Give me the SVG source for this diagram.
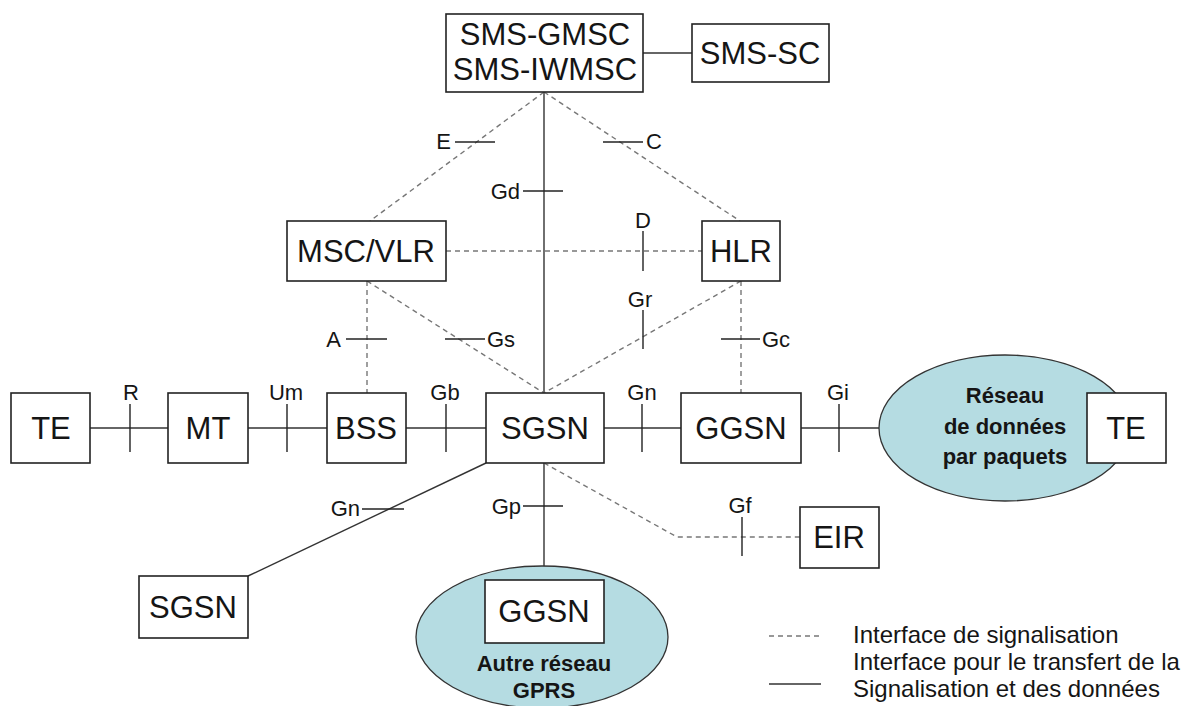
<svg xmlns="http://www.w3.org/2000/svg" width="1194" height="706" viewBox="0 0 1194 706">
<style>
.box{fill:#fff;stroke:#222;stroke-width:1.6}
.net{fill:#b5dce2;stroke:#333;stroke-width:1.3}
.t{font-family:"Liberation Sans",Arial,sans-serif;font-size:31px;fill:#151515;text-anchor:middle}
.b{font-family:"Liberation Sans",Arial,sans-serif;font-size:22px;font-weight:bold;fill:#151515;text-anchor:middle}
.l{font-family:"Liberation Sans",Arial,sans-serif;font-size:22px;fill:#151515}
.lg{font-family:"Liberation Sans",Arial,sans-serif;font-size:24px;fill:#151515}
.s{stroke:#333;stroke-width:1.4;fill:none}
.d{stroke:#777;stroke-width:1.4;stroke-dasharray:5 4;fill:none}
.k{stroke:#222;stroke-width:1.4}
</style>
<rect width="1194" height="706" fill="#fff"/>
<g id="connectors">
<line class="s" x1="643" y1="53" x2="692" y2="53"/>
<line class="s" x1="544" y1="92" x2="544" y2="393"/>
<line class="d" x1="544" y1="92" x2="370" y2="221"/>
<line class="d" x1="544" y1="92" x2="740" y2="221"/>
<line class="d" x1="446" y1="251" x2="702" y2="251"/>
<line class="d" x1="367" y1="281" x2="367" y2="393"/>
<line class="d" x1="367" y1="281" x2="544" y2="393"/>
<line class="d" x1="741" y1="281" x2="544" y2="393"/>
<line class="d" x1="741" y1="281" x2="741" y2="393"/>
<line class="s" x1="90" y1="428" x2="168" y2="428"/>
<line class="s" x1="248" y1="428" x2="327" y2="428"/>
<line class="s" x1="406" y1="428" x2="486" y2="428"/>
<line class="s" x1="604" y1="428" x2="681" y2="428"/>
<line class="s" x1="801" y1="428" x2="879" y2="428"/>
<line class="s" x1="486" y1="463" x2="248" y2="576"/>
<line class="s" x1="544" y1="463" x2="544" y2="580"/>
<polyline class="d" points="544,463 677,537 800,537"/>
<g id="ticks">
<line class="k" x1="455" y1="142" x2="495" y2="142"/>
<line class="k" x1="603" y1="142" x2="643" y2="142"/>
<line class="k" x1="523" y1="191" x2="563" y2="191"/>
<line class="k" x1="643" y1="231" x2="643" y2="271"/>
<line class="k" x1="643" y1="310" x2="643" y2="349"/>
<line class="k" x1="346" y1="339" x2="387" y2="339"/>
<line class="k" x1="445" y1="339" x2="485" y2="339"/>
<line class="k" x1="721" y1="339" x2="760" y2="339"/>
<line class="k" x1="130" y1="404" x2="130" y2="452"/>
<line class="k" x1="287" y1="404" x2="287" y2="452"/>
<line class="k" x1="446" y1="404" x2="446" y2="452"/>
<line class="k" x1="642" y1="404" x2="642" y2="452"/>
<line class="k" x1="839" y1="404" x2="839" y2="452"/>
<line class="k" x1="362" y1="509" x2="404" y2="509"/>
<line class="k" x1="523" y1="506" x2="563" y2="506"/>
<line class="k" x1="742" y1="517" x2="742" y2="556"/>
</g>
<g id="labels">
<text class="l" x="451" y="149" text-anchor="end">E</text>
<text class="l" x="646" y="149">C</text>
<text class="l" x="520" y="199" text-anchor="end">Gd</text>
<text class="l" x="643" y="228" text-anchor="middle">D</text>
<text class="l" x="640" y="307" text-anchor="middle">Gr</text>
<text class="l" x="341" y="347" text-anchor="end">A</text>
<text class="l" x="487" y="347">Gs</text>
<text class="l" x="762" y="347">Gc</text>
<text class="l" x="131" y="400" text-anchor="middle">R</text>
<text class="l" x="286" y="400" text-anchor="middle">Um</text>
<text class="l" x="445" y="400" text-anchor="middle">Gb</text>
<text class="l" x="642" y="400" text-anchor="middle">Gn</text>
<text class="l" x="838" y="400" text-anchor="middle">Gi</text>
<text class="l" x="360" y="516" text-anchor="end">Gn</text>
<text class="l" x="521" y="514" text-anchor="end">Gp</text>
<text class="l" x="740" y="513" text-anchor="middle">Gf</text>
</g>
</g>
<g id="sms-gmsc"><rect class="box" x="446" y="14" width="197" height="78"/><text class="t" x="545" y="45">SMS-GMSC</text><text class="t" x="545" y="80">SMS-IWMSC</text></g>
<g id="sms-sc"><rect class="box" x="692" y="24" width="137" height="58"/><text class="t" x="760" y="64">SMS-SC</text></g>
<g id="msc-vlr"><rect class="box" x="287" y="221" width="159" height="60"/><text class="t" x="366" y="262">MSC/VLR</text></g>
<g id="hlr"><rect class="box" x="702" y="221" width="78" height="60"/><text class="t" x="741" y="262">HLR</text></g>
<g id="te1"><rect class="box" x="11" y="393" width="79" height="70"/><text class="t" x="51" y="439">TE</text></g>
<g id="mt"><rect class="box" x="168" y="393" width="80" height="70"/><text class="t" x="208" y="439">MT</text></g>
<g id="bss"><rect class="box" x="327" y="393" width="79" height="70"/><text class="t" x="366" y="439">BSS</text></g>
<g id="sgsn"><rect class="box" x="486" y="393" width="118" height="70"/><text class="t" x="545" y="439">SGSN</text></g>
<g id="ggsn"><rect class="box" x="681" y="393" width="120" height="70"/><text class="t" x="741" y="439">GGSN</text></g>
<g id="reseau"><ellipse class="net" cx="1005" cy="428" rx="126" ry="73"/><text class="b" x="1005" y="403" font-size="23">Réseau</text><text class="b" x="1005" y="434" font-size="23">de données</text><text class="b" x="1005" y="464" font-size="23">par paquets</text></g>
<g id="te2"><rect class="box" x="1087" y="393" width="79" height="70"/><text class="t" x="1126" y="439">TE</text></g>
<g id="eir"><rect class="box" x="800" y="507" width="79" height="61"/><text class="t" x="839" y="548">EIR</text></g>
<g id="sgsn2"><rect class="box" x="139" y="576" width="109" height="62"/><text class="t" x="193" y="618">SGSN</text></g>
<g id="autre-reseau"><ellipse class="net" cx="542" cy="637" rx="126" ry="71"/></g>
<g id="ggsn2"><rect class="box" x="485" y="580" width="119" height="63"/><text class="t" x="544" y="622">GGSN</text><text class="b" x="544" y="671" font-size="21">Autre réseau</text><text class="b" x="544" y="698" font-size="21">GPRS</text></g>
<g id="legend">
<line class="d" x1="769" y1="636" x2="821" y2="636" stroke-dasharray="4 4"/>
<line class="s" x1="769" y1="684" x2="821" y2="684"/>
<text class="lg" x="853" y="643">Interface de signalisation</text>
<text class="lg" x="853" y="670">Interface pour le transfert de la</text>
<text class="lg" x="853" y="697">Signalisation et des données</text>
</g>
</svg>
